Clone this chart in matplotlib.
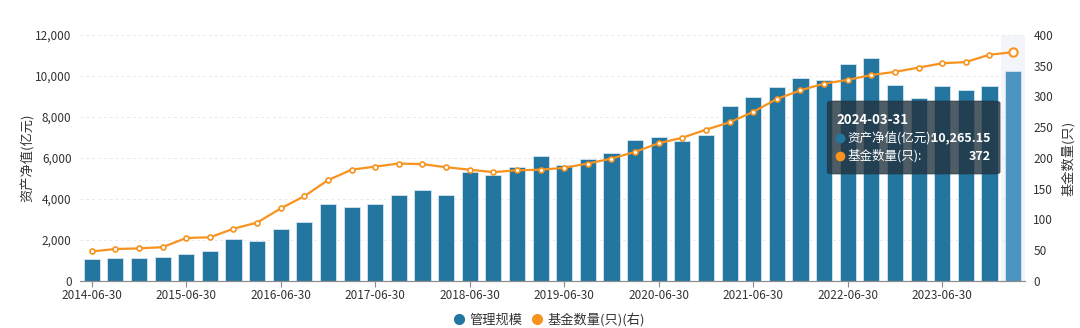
import matplotlib
matplotlib.use("Agg")
import matplotlib.pyplot as plt
from matplotlib.patches import FancyBboxPatch
from matplotlib.lines import Line2D

plt.rcParams['font.family'] = ['Noto Sans CJK SC', 'DejaVu Sans']

dates = ["2014-06-30", "2014-09-30", "2014-12-31",
         "2015-03-31", "2015-06-30", "2015-09-30", "2015-12-31",
         "2016-03-31", "2016-06-30", "2016-09-30", "2016-12-31",
         "2017-03-31", "2017-06-30", "2017-09-30", "2017-12-31",
         "2018-03-31", "2018-06-30", "2018-09-30", "2018-12-31",
         "2019-03-31", "2019-06-30", "2019-09-30", "2019-12-31",
         "2020-03-31", "2020-06-30", "2020-09-30", "2020-12-31",
         "2021-03-31", "2021-06-30", "2021-09-30", "2021-12-31",
         "2022-03-31", "2022-06-30", "2022-09-30", "2022-12-31",
         "2023-03-31", "2023-06-30", "2023-09-30", "2023-12-31",
         "2024-03-31"]

aum = [1057, 1106, 1138, 1171, 1317, 1447, 2065, 1951, 2520, 2894,
       3772, 3593, 3772, 4211, 4423, 4179, 5333, 5154, 5577, 6098,
       5659, 5935, 6228, 6894, 7041, 6813, 7122, 8520, 8959, 9447,
       9902, 9821, 10585, 10862, 9545, 8927, 9496, 9301, 9512, 10265.15]

funds = [48, 52, 53, 55, 70, 71, 85, 95, 118, 138,
         164, 181, 186, 191, 190, 185, 181, 177, 180, 181,
         184, 191, 199, 210, 224, 233, 246, 258, 275, 296,
         310, 321, 327, 335, 340, 347, 354, 356, 368, 372]

left_ticks = [0, 2000, 4000, 6000, 8000, 10000, 12000]
right_ticks = [0, 50, 100, 150, 200, 250, 300, 350, 400]

bar_color = '#23769f'
hover_color = '#4b95c0'
line_color = '#f7931e'
text_color = '#333333'

fig = plt.figure(figsize=(10.8, 3.28), dpi=100)
ax = fig.add_axes([0.074, 0.1433, 0.875, 0.75])
ax2 = ax.twinx()

x = list(range(len(dates)))
n = len(dates)

# hover shadow on last category
ax.axvspan(n - 1.5, n - 0.5, color='#f3f5fb', zorder=0, lw=0)

colors = [bar_color] * (n - 1) + [hover_color]
ax.bar(x, aum, width=0.68, color=colors, edgecolor='#d6e6f0', linewidth=0.6, zorder=2)

ax.set_xlim(-0.5, n - 0.5)
ax.set_ylim(0, 12000)
ax.set_yticks(left_ticks)
ax.set_yticklabels([f"{v:,}" for v in left_ticks])
ax.grid(axis='y', color='#e8ebf2', linestyle=(0, (3, 3)), linewidth=0.7, zorder=0)
ax.set_axisbelow(True)

tick_idx = list(range(0, n, 4))
ax.set_xticks(tick_idx)
ax.set_xticklabels([dates[i] for i in tick_idx])

for a in (ax, ax2):
    for s in ('top', 'left', 'right'):
        a.spines[s].set_visible(False)
    a.spines['bottom'].set_color('#8c8c8c')
    a.tick_params(axis='y', length=0, labelsize=8.5, colors=text_color, pad=6)

ax.tick_params(axis='x', length=4, color='#8c8c8c', labelsize=8.5, labelcolor=text_color, pad=2)

ax2.plot(x, funds, color=line_color, lw=1.6, marker='o', markersize=3.6,
         markerfacecolor='white', markeredgecolor=line_color, markeredgewidth=1.2, zorder=3)
ax2.plot([x[-1]], [funds[-1]], marker='o', markersize=6, markerfacecolor='white',
         markeredgecolor=line_color, markeredgewidth=1.5, zorder=4)
ax2.set_ylim(0, 400)
ax2.set_yticks(right_ticks)

ax.set_ylabel('资产净值(亿元)', fontsize=9.5, color=text_color, labelpad=0)
ax2.set_ylabel('基金数量(只)', fontsize=9.5, color=text_color, labelpad=6, rotation=90)

# tooltip
tip = FancyBboxPatch((0.766, 0.4695), 0.160, 0.2226, transform=fig.transFigure,
                     boxstyle='round,pad=0,rounding_size=0.006',
                     facecolor='#22333f', alpha=0.8, edgecolor='#22333f', lw=0.5, zorder=10)
fig.patches.append(tip)
def fy(py):
    return 1 - py / 328
fig.text(836 / 1080, fy(120), '2024-03-31', color='white', fontsize=9.5, weight='bold',
         va='center', ha='left', zorder=11)
fig.text(847 / 1080, fy(137.5), '资产净值(亿元):', color='white', fontsize=9,
         va='center', ha='left', zorder=11)
fig.text(991 / 1080, fy(137.5), f"{aum[-1]:,.2f}", color='white', fontsize=9, weight='bold',
         va='center', ha='right', zorder=11)
fig.text(847 / 1080, fy(156), '基金数量(只):', color='white', fontsize=9,
         va='center', ha='left', zorder=11)
fig.text(991 / 1080, fy(156), f"{funds[-1]}", color='white', fontsize=9, weight='bold',
         va='center', ha='right', zorder=11)
fig.add_artist(Line2D([840 / 1080], [fy(137.5)], marker='o', markersize=6, color=bar_color,
                      transform=fig.transFigure, zorder=12))
fig.add_artist(Line2D([840 / 1080], [fy(156)], marker='o', markersize=6, color=line_color,
                      transform=fig.transFigure, zorder=12))

# legend
handles = [Line2D([], [], marker='o', linestyle='', markersize=7, color=bar_color),
           Line2D([], [], marker='o', linestyle='', markersize=7, color=line_color)]
fig.legend(handles, ['管理规模', '基金数量(只)(右)'], loc='center', bbox_to_anchor=(0.509, 0.025),
           ncol=2, frameon=False, fontsize=9.5, handlelength=0.7, handletextpad=0.4,
           columnspacing=0.8, labelcolor=text_color, borderpad=0)

fig.savefig('out.png', dpi=100)
